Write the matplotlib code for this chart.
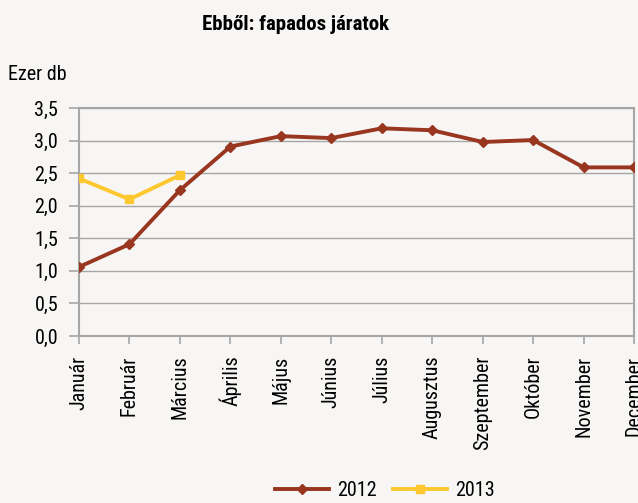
import matplotlib
matplotlib.use('Agg')
import matplotlib.pyplot as plt
from matplotlib import font_manager
from matplotlib.ticker import FuncFormatter

# ── Data ─────────────────────────────────────────────────────────────────────
months = ['Január', 'Február', 'Március', 'Április', 'Május', 'Június',
          'Július', 'Augusztus', 'Szeptember', 'Október', 'November', 'December']
vals_2012 = [1.06, 1.41, 2.24, 2.91, 3.07, 3.04, 3.19, 3.16, 2.98, 3.01, 2.59, 2.59]
vals_2013 = [2.42, 2.10, 2.47]
y_ticks = [0.0, 0.5, 1.0, 1.5, 2.0, 2.5, 3.0, 3.5]

BG = '#F7F6F4'
C2012 = '#983620'
C2013 = '#FDC82F'
GRID = '#A6A6A6'

# condensed face if one is around (reference uses a narrow font)
fonts = font_manager.fontManager.ttflist
names = {f.name for f in fonts}
STRETCH = 'normal'
if 'Liberation Sans Narrow' in names:
    FAMILY = 'Liberation Sans Narrow'
elif 'Roboto Condensed' in names:
    FAMILY = 'Roboto Condensed'
elif any(f.name == 'DejaVu Sans' and f.stretch == 'condensed' for f in fonts):
    FAMILY = 'DejaVu Sans'
    STRETCH = 'condensed'
else:
    FAMILY = 'Liberation Sans'
plt.rcParams['font.family'] = [FAMILY, 'DejaVu Sans']
plt.rcParams['font.stretch'] = STRETCH

FS = 14.5

fig = plt.figure(figsize=(6.38, 5.03), dpi=100)
fig.patch.set_facecolor(BG)
ax = fig.add_axes([0.1238, 0.332, 0.870, 0.453])
ax.set_facecolor(BG)

x12 = list(range(len(vals_2012)))
x13 = list(range(len(vals_2013)))
ax.plot(x12, vals_2012, color=C2012, lw=2.8, marker='D', ms=5.5, label='2012', zorder=3)
ax.plot(x13, vals_2013, color=C2013, lw=2.8, marker='s', ms=6, label='2013', zorder=3)

ax.set_xlim(0, 11)
ax.set_ylim(0, 3.5)
ax.set_yticks(y_ticks)
ax.yaxis.set_major_formatter(FuncFormatter(lambda v, p: f'{v:.1f}'.replace('.', ',')))
ax.set_xticks(x12)
ax.set_xticklabels(months, rotation=90, fontsize=FS)
ax.tick_params(axis='y', labelsize=FS, length=7, width=1.2, color=GRID, pad=8)
ax.tick_params(axis='x', length=6, width=1.2, color=GRID, pad=8)
ax.grid(axis='y', color=GRID, lw=1.0)
ax.set_axisbelow(True)
for s in ax.spines.values():
    s.set_color(GRID)
    s.set_linewidth(1.5)

fig.text(0.463, 0.951, 'Ebből: fapados járatok', ha='center', va='center',
         fontsize=15, fontweight='bold')
fig.text(0.012, 0.851, 'Ezer db', ha='left', va='center', fontsize=FS)

fig.legend(loc='center', bbox_to_anchor=(0.603, 0.024), ncol=2, frameon=False,
           fontsize=FS, handlelength=2.7, columnspacing=0.8, handletextpad=0.4)

fig.savefig('out.png', dpi=100, facecolor=fig.get_facecolor())
